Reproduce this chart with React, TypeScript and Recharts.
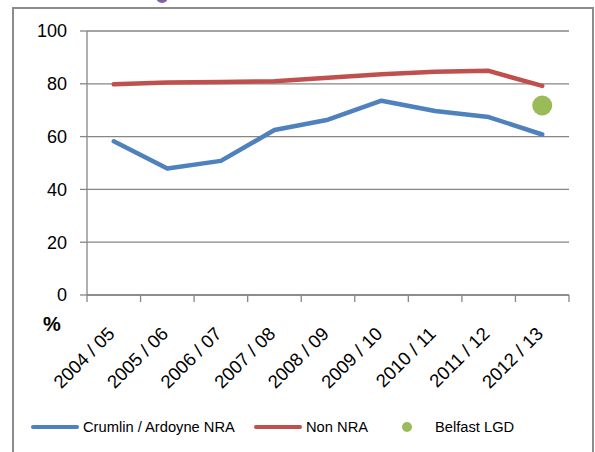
import { LineChart, Line, XAxis, YAxis, CartesianGrid } from 'recharts'

const years = [
  '2004 / 05',
  '2005 / 06',
  '2006 / 07',
  '2007 / 08',
  '2008 / 09',
  '2009 / 10',
  '2010 / 11',
  '2011 / 12',
  '2012 / 13',
]
const crumlin = [58.2, 47.9, 50.8, 62.5, 66.4, 73.6, 69.7, 67.4, 60.8]
const nonNra = [79.8, 80.5, 80.7, 81.0, 82.3, 83.6, 84.6, 84.9, 79.2]
const belfast = [null, null, null, null, null, null, null, null, 71.8]
const yTicks = [0, 20, 40, 60, 80, 100]

const BLUE = '#4F81BD'
const RED = '#C0504D'
const GREEN = '#9BBB59'
const GRID = '#868686'
const FRAME = '#8c8c8c'
const FONT = '"Liberation Sans", Arial, sans-serif'

const data = years.map((year, i) => ({
  year,
  crumlin: crumlin[i],
  nonNra: nonNra[i],
  belfast: belfast[i],
}))

// tick lines sit on the category boundaries, labels on the centres
function YearTick(props: any) {
  const { x, y, payload, index, visibleTicksCount } = props
  const off = payload.offset ?? 0
  const lx = x + 2
  const ly = y + 40
  return (
    <g>
      <line x1={x - off} x2={x - off} y1={y} y2={y + 7} stroke={GRID} strokeWidth={1.3} />
      {index === visibleTicksCount - 1 && (
        <line x1={x + off} x2={x + off} y1={y} y2={y + 7} stroke={GRID} strokeWidth={1.3} />
      )}
      <text
        x={lx}
        y={ly}
        transform={`rotate(-45, ${lx}, ${ly})`}
        textAnchor="end"
        fill="#000"
        fontSize={18.5}
        fontFamily={FONT}
      >
        {payload.value}
      </text>
    </g>
  )
}

const legendItems = [
  { name: 'Crumlin / Ardoyne NRA', color: BLUE, kind: 'line', left: 31 },
  { name: 'Non NRA', color: RED, kind: 'line', left: 254 },
  { name: 'Belfast LGD', color: GREEN, kind: 'dot', left: 402 },
]

const edge = (style: any) => (
  <div style={{ position: 'absolute', background: FRAME, zIndex: 5, ...style }} />
)

export default function App() {
  return (
    <div
      style={{
        position: 'fixed',
        left: 0,
        top: 0,
        width: 595,
        height: 452,
        overflow: 'hidden',
        background: '#fff',
        fontFamily: FONT,
      }}
    >
      {/* marker from the chart above, cut off */}
      <div
        style={{
          position: 'absolute',
          left: 156,
          top: -9,
          width: 12,
          height: 12,
          borderRadius: '50%',
          background: '#8064A2',
        }}
      />
      <div style={{ position: 'absolute', left: 0, top: 0 }}>
        <LineChart
          width={595}
          height={452}
          data={data}
          margin={{ top: 31, right: 26, left: 27, bottom: 57 }}
        >
          <CartesianGrid vertical={false} stroke={GRID} strokeWidth={1.3} />
          <XAxis
            dataKey="year"
            scale="band"
            height={100}
            interval={0}
            tickSize={0}
            tickMargin={0}
            tickLine={false}
            axisLine={{ stroke: GRID, strokeWidth: 1.3 }}
            tick={<YearTick />}
          />
          <YAxis
            width={60}
            domain={[0, 100]}
            ticks={yTicks}
            interval={0}
            tickSize={7}
            tickMargin={13}
            axisLine={{ stroke: GRID, strokeWidth: 1.3 }}
            tickLine={{ stroke: GRID, strokeWidth: 1.3 }}
            tick={{ fill: '#000', fontSize: 18, fontFamily: FONT }}
          />
          <Line
            dataKey="nonNra"
            type="linear"
            stroke={RED}
            strokeWidth={4.5}
            strokeLinecap="round"
            strokeLinejoin="round"
            dot={false}
            isAnimationActive={false}
          />
          <Line
            dataKey="crumlin"
            type="linear"
            stroke={BLUE}
            strokeWidth={4.5}
            strokeLinecap="round"
            strokeLinejoin="round"
            dot={false}
            isAnimationActive={false}
          />
          <Line
            dataKey="belfast"
            stroke="none"
            dot={{ r: 10, fill: GREEN, stroke: 'none' }}
            isAnimationActive={false}
          />
        </LineChart>
      </div>
      {/* frame of the chart box */}
      {edge({ left: 12, top: 7, width: 582, height: 2 })}
      {edge({ left: 12, top: 7, width: 2, height: 460 })}
      {edge({ left: 592, top: 7, width: 2, height: 460 })}
      <div
        style={{
          position: 'absolute',
          left: 43,
          top: 313,
          fontSize: 20,
          fontWeight: 'bold',
          color: '#000',
        }}
      >
        %
      </div>
      {legendItems.map((item) => (
        <div
          key={item.name}
          style={{
            position: 'absolute',
            left: item.left,
            top: 418,
            height: 18,
            display: 'flex',
            alignItems: 'center',
            fontSize: 14.7,
            color: '#000',
            whiteSpace: 'nowrap',
          }}
        >
          {item.kind === 'line' ? (
            <span
              style={{
                display: 'inline-block',
                width: 48,
                height: 4.5,
                borderRadius: 3,
                background: item.color,
                marginRight: 4,
              }}
            />
          ) : (
            <span
              style={{
                display: 'inline-block',
                width: 10,
                height: 10,
                borderRadius: '50%',
                background: item.color,
                marginRight: 23,
              }}
            />
          )}
          {item.name}
        </div>
      ))}
    </div>
  )
}
